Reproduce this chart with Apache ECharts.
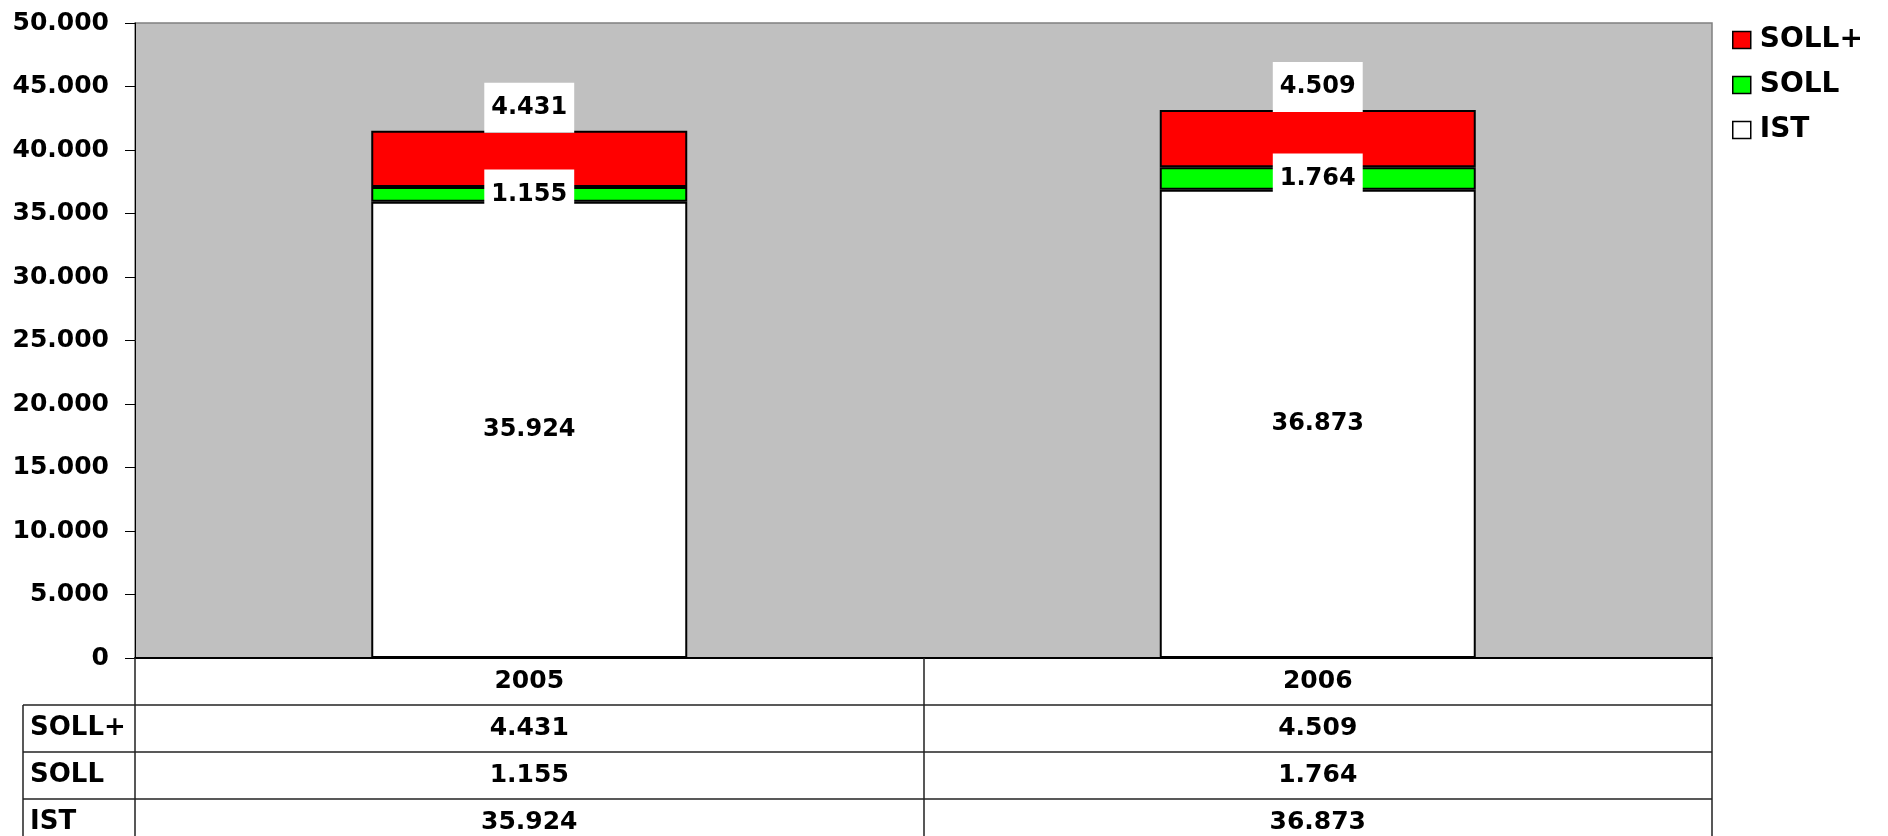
<!DOCTYPE html>
<html>
<head>
<meta charset="utf-8">
<script src="https://cdn.jsdelivr.net/npm/echarts@6/dist/echarts.min.js"></script>
<style>
  html, body { margin: 0; padding: 0; background: #fff; }
  #chart { width: 1888px; height: 836px; }
</style>
</head>
<body>
<div id="chart"></div>
<script>
var categories = ['2005', '2006']
var istValues = [35924, 36873]
var sollValues = [1155, 1764]
var sollPlusValues = [4431, 4509]
var rowNames = ['SOLL+', 'SOLL', 'IST']

var FONT = 'DejaVu Sans'
var gridLeft = 135
var gridRight = 176
var gridTop = 23
var gridBottom = 178
var rowH = 47
var axisY = 836 - gridBottom

// 35924 -> "35.924"
function fmt(v) {
  return String(Math.round(v)).replace(/\B(?=(\d{3})+(?!\d))/g, '.')
}

function labelStyle(position, dy) {
  return {
    show: true,
    position: position,
    distance: -2,
    offset: [0, dy],
    formatter: function (p) { return fmt(p.value) },
    color: '#000',
    fontFamily: FONT,
    fontWeight: 'bold',
    fontSize: 24,
    lineHeight: 26,
    backgroundColor: '#fff',
    padding: [12, 7]
  }
}

var chart = echarts.init(document.getElementById('chart'))

var graphics = []
// table rows
for (var i = 1; i <= 3; i++) {
  graphics.push({
    type: 'line',
    shape: { x1: 23, y1: axisY + rowH * i, x2: 1888 - gridRight, y2: axisY + rowH * i },
    style: { stroke: '#222', lineWidth: 1.5 }
  })
}
graphics.push({
  type: 'line',
  shape: { x1: 23, y1: axisY + rowH, x2: 23, y2: 836 },
  style: { stroke: '#222', lineWidth: 1.5 }
})
rowNames.forEach(function (name, k) {
  graphics.push({
    type: 'text',
    left: 30,
    top: axisY + rowH * (k + 1) + rowH / 2 - 13,
    style: {
      text: name,
      fill: '#000',
      font: 'bold 26px "' + FONT + '"'
    }
  })
})

chart.setOption({
  animation: false,
  grid: {
    left: gridLeft,
    right: gridRight,
    top: gridTop,
    bottom: gridBottom,
    outerBoundsMode: 'none',
    containLabel: false,
    show: true,
    backgroundColor: '#C0C0C0',
    borderColor: '#808080',
    borderWidth: 1.5
  },
  legend: {
    data: ['SOLL+', 'SOLL', 'IST'],
    orient: 'vertical',
    left: 1727,
    top: 21,
    icon: 'rect',
    itemWidth: 18,
    itemHeight: 17,
    itemGap: 17,
    itemStyle: { borderColor: '#000', borderWidth: 1.5 },
    textStyle: {
      color: '#000',
      fontFamily: FONT,
      fontWeight: 'bold',
      fontSize: 28,
      padding: [0, 0, 0, 4]
    }
  },
  xAxis: {
    type: 'category',
    data: categories,
    axisLine: { lineStyle: { color: '#000', width: 2 } },
    axisTick: {
      show: true,
      interval: 0,
      length: 180,
      lineStyle: { color: '#222', width: 1.5 }
    },
    axisLabel: {
      interval: 0,
      margin: 0,
      color: '#000',
      fontFamily: FONT,
      fontWeight: 'bold',
      fontSize: 25,
      lineHeight: rowH,
      formatter: function (v, idx) {
        return [v, fmt(sollPlusValues[idx]), fmt(sollValues[idx]), fmt(istValues[idx])].join('\n')
      }
    }
  },
  yAxis: {
    type: 'value',
    min: 0,
    max: 50000,
    interval: 5000,
    splitLine: { show: false },
    axisLine: { show: true, lineStyle: { color: '#000', width: 1 } },
    axisTick: { show: true, length: 10, lineStyle: { color: '#000' } },
    axisLabel: {
      margin: 26,
      color: '#000',
      fontFamily: FONT,
      fontWeight: 'bold',
      fontSize: 25,
      formatter: function (v) { return fmt(v) }
    }
  },
  series: [
    {
      name: 'IST',
      type: 'bar',
      stack: 'total',
      barWidth: 316,
      data: istValues,
      itemStyle: { color: '#FFFFFF', borderColor: '#000', borderWidth: 2 },
      label: labelStyle('inside', 0)
    },
    {
      name: 'SOLL',
      type: 'bar',
      stack: 'total',
      barWidth: 316,
      data: sollValues,
      itemStyle: { color: '#00FF00', borderColor: '#000', borderWidth: 2 },
      label: labelStyle('inside', 0)
    },
    {
      name: 'SOLL+',
      type: 'bar',
      stack: 'total',
      barWidth: 316,
      data: sollPlusValues,
      itemStyle: { color: '#FF0000', borderColor: '#000', borderWidth: 2 },
      label: labelStyle('top', 0)
    }
  ],
  graphic: graphics
})
</script>
</body>
</html>
